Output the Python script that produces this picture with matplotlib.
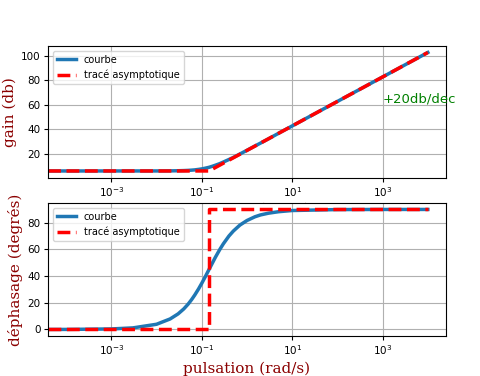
import numpy as np
import matplotlib
matplotlib.use("Agg")
import matplotlib.pyplot as plt
from matplotlib.ticker import NullLocator

# pulsation (rad/s) et valeurs
w_courbe = [4e-5, 1e-4, 1e-3, 3e-3, 1e-2, 2e-2, 3e-2, 4e-2, 5e-2, 6e-2, 7e-2, 8.5e-2,
            0.1, 0.12, 0.145, 0.17, 0.2, 0.25, 0.3, 0.4, 0.5, 0.7, 1, 1.5, 2, 3, 5,
            10, 100, 1e3, 1e4]
gain_courbe = [6.02, 6.02, 6.02, 6.03, 6.04, 6.10, 6.2, 6.34, 6.5, 6.7, 6.9, 7.3,
               7.7, 8.3, 9.0, 9.8, 10.7, 12.0, 13.3, 15.4, 17.1, 19.9, 22.9, 26.4, 28.8, 32.3, 36.8,
               42.8, 62.8, 82.8, 102.8]
phase_courbe = [0.02, 0.04, 0.40, 1.19, 3.9, 7.9, 11.7, 15.4, 19.0, 22.5, 25.8, 30.4,
                34.6, 39.6, 45.0, 49.5, 54.1, 59.9, 64.2, 70.1, 73.8, 78.3, 81.7, 84.5, 85.9, 87.2, 88.3,
                89.2, 89.9, 90.0, 90.0]

w_asym_gain = [4e-5, 0.145, 1e4]
gain_asym = [6.02, 6.02, 102.8]

w_asym_phase = [4e-5, 0.145, 0.145, 1e4]
phase_asym = [0, 0, 90, 90]

x_ticks = [1e-3, 1e-1, 1e1, 1e3]

label_font = dict(family="DejaVu Serif", color="darkred", fontsize=11)

fig = plt.figure(figsize=(4.8, 3.76), dpi=100)
ax1 = fig.add_axes([0.1, 0.527, 0.829, 0.351])
ax2 = fig.add_axes([0.1, 0.106, 0.829, 0.354])

ax1.semilogx(w_courbe, gain_courbe, color="tab:blue", lw=2.5, label="courbe")
ax1.semilogx(w_asym_gain, gain_asym, "r--", lw=2.5, label="tracé asymptotique")
ax1.text(1e3, 62, "+20db/dec", color="green", fontsize=9.5, clip_on=False)
ax1.set_ylabel("gain (db)", labelpad=3, **label_font)
ax1.set_xlabel("pulsation (rad/s)", labelpad=3, **label_font)

ax2.semilogx(w_courbe, phase_courbe, color="tab:blue", lw=2.5, label="courbe")
ax2.semilogx(w_asym_phase, phase_asym, "r--", lw=2.5, label="tracé asymptotique")
ax2.set_ylabel("déphasage (degrés)", labelpad=3, **label_font)
ax2.set_xlabel("pulsation (rad/s)", labelpad=3, **label_font)

for ax in (ax1, ax2):
    ax.set_xlim(10**-4.4, 10**4.4)
    ax.set_xticks(x_ticks)
    ax.xaxis.set_minor_locator(NullLocator())
    ax.grid(True)
    ax.tick_params(labelsize=7.5, length=2.6, pad=2.6)
    ax.legend(loc="upper left", fontsize=7)

ax1.set_ylim(0.4, 108.2)
ax2.set_ylim(-5, 94.8)

fig.savefig("out.png", dpi=100)
